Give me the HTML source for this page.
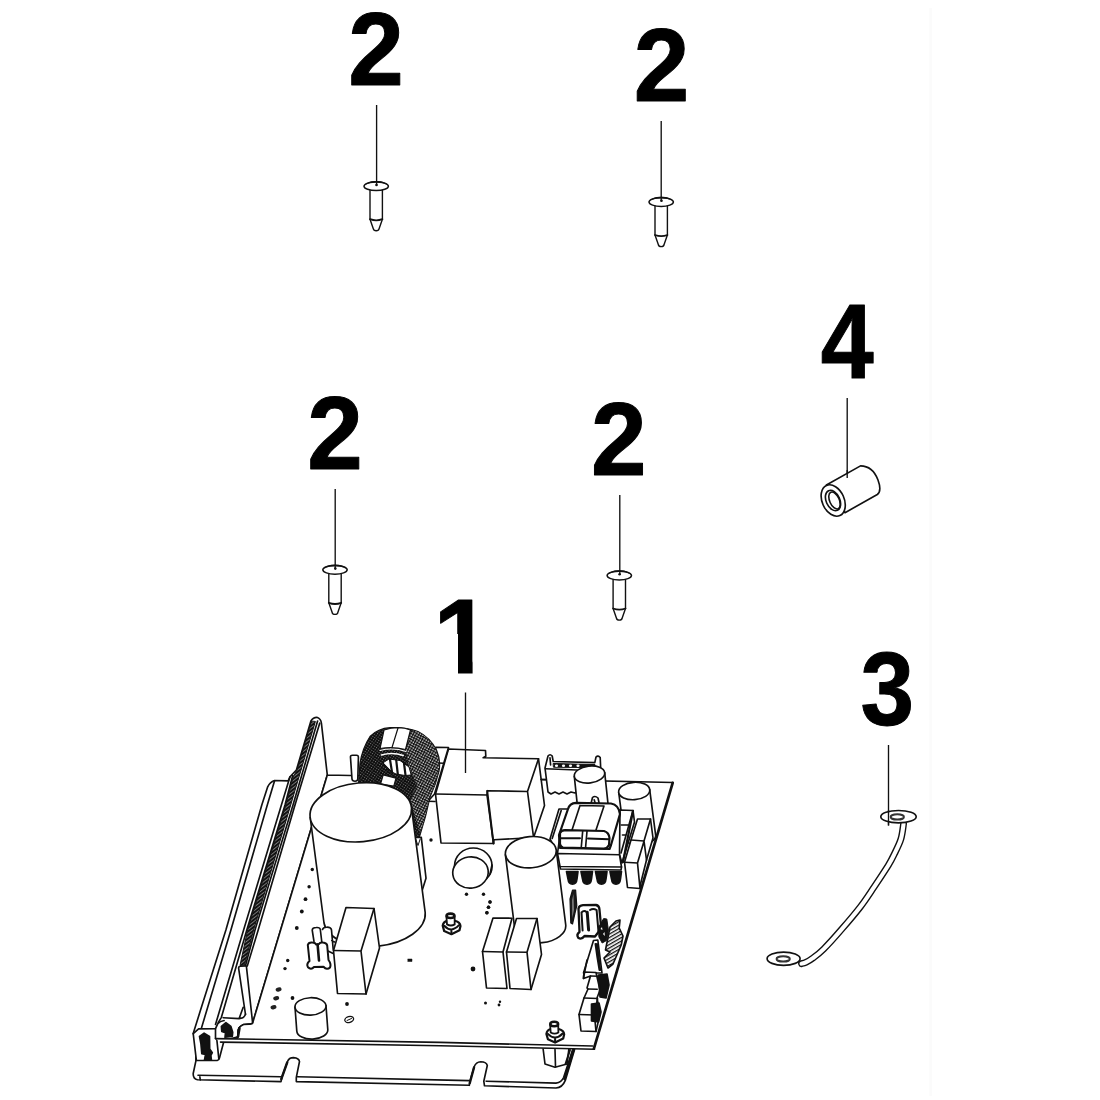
<!DOCTYPE html>
<html><head><meta charset="utf-8"><title>Parts diagram</title>
<style>
html,body{margin:0;padding:0;background:#fff;}
body{width:1100px;height:1100px;overflow:hidden;}
svg{display:block;}
.n{font-family:"Liberation Sans",Arial,Helvetica,sans-serif;font-weight:700;font-size:103px;fill:#000;stroke:#000;stroke-width:1px;stroke-linejoin:round;}
.l{stroke:#111;stroke-width:1.35;fill:none;}
.s{stroke:#111;stroke-width:1.65;fill:#fff;stroke-linejoin:round;stroke-linecap:round;}
.o{stroke:#111;stroke-width:1.65;fill:none;stroke-linejoin:round;stroke-linecap:round;}
g.z *{vector-effect:non-scaling-stroke;}
</style></head>
<body>
<svg width="1100" height="1100" viewBox="0 0 1100 1100">
<rect width="1100" height="1100" fill="#fff"/>
<line x1="930.7" y1="8" x2="930.7" y2="1096" stroke="#fbfbfb" stroke-width="2.6"/>
<defs>
<g id="screw">
  <path class="s" d="M-6.2 3 L-6.2 33 L-2.9 42.5 Q-2.5 44.6 0 44.6 Q2.5 44.6 2.9 42.5 L6.2 33 L6.2 3 Z" style="stroke-width:1.4"/>
  <path class="o" d="M-6.2 33 Q0 35.4 6.2 33" style="stroke-width:1.8"/>
  <ellipse class="s" cx="0" cy="0" rx="12.2" ry="4.4" style="stroke-width:1.5"/>
  <path d="M-11.8 -1.2 Q-8 -5.2 0 -5.2 Q8 -5.2 11.8 -1.2 Q6 -3.6 0 -3.5 Q-6 -3.6 -11.8 -1.2Z" fill="#111"/>
  <circle cx="0.3" cy="-1.2" r="1.3" fill="#111"/>
</g>
</defs>
<!-- numbers -->
<text class="n" transform="translate(348.3 85) scale(0.97 1)">2</text>
<text class="n" transform="translate(633.8 100.9) scale(0.97 1)">2</text>
<text class="n" transform="translate(307.2 469.4) scale(0.97 1)">2</text>
<text class="n" transform="translate(591 474.500) scale(0.97 1)">2</text>
<text class="n" transform="translate(820.7 377.9) scale(0.924 1.028)">4</text>
<text class="n" transform="translate(860.6 725.2) scale(0.935 1)">3</text>
<text class="n" transform="translate(433.45 672.500) scale(1.01 1.02)">1</text>
<path d="M430 634H458V676H430Z M472.6 594H494V676H472.6Z" fill="#fff"/>
<!-- screws -->
<use href="#screw" x="376.2" y="186.2"/>
<use href="#screw" x="661.2" y="202"/>
<use href="#screw" x="335" y="569.8"/>
<use href="#screw" x="619.3" y="575.5"/>
<!-- leaders -->
<path class="l" d="M376.6 105V185.2 M661.2 121V201.2 M335.2 489V569 M619.8 495V575 M847.200 398V478 M888.500 745V825.500"/>
<!-- BOARD -->
<g id="board">
<!-- base plate -->
<path class="s" d="M195.9 1038 L195.9 1060.9 L193.2 1073.5 Q193 1078.7 197.5 1079.8 L281 1081.6 L282 1077 L287.5 1061.5 Q289 1057.6 293.5 1057.6 Q299 1058 299.5 1061.5 L296.3 1077.3 L296.3 1081.6 L469.3 1085.3 L470 1081 L474.2 1066.7 Q476 1062 480.7 1061.8 Q486.5 1062 487.3 1065.5 L483.8 1081.2 L484.5 1085.8 L556 1088 Q562.5 1087.5 565.3 1080.4 L574.5 1049.8 L574.5 1038 Z"/>
<path class="o" d="M198 1075.3 L280.5 1076.7 M297.4 1076.7 L469 1080.6 M486.2 1081.2 L556 1083.1 Q561.5 1082.5 563.6 1077.5 L572.6 1050 M199.7 1075.6 L200.3 1080"/>
<path class="o" d="M281.3 1079 L287.2 1062.5 M469.8 1083 L474 1067.5 M564.5 1079 L573.6 1050" style="stroke-width:2.4"/>
<!-- heat sink -->
<path class="s" d="M 274.5 780.5 L 288.2 780.9 L 290.0 776.8 L 296.4 770.0 L 310.9 720.9 Q 313.2 717.3 316.8 717.3 Q 320.9 718.6 321.4 723.2 L 327.3 775.0 L 252.7 1022.7 Q 252.3 1024.5 249.1 1024.1 L 243.6 1024.5 Q 239.1 1026.4 238.2 1030.0 L 238.0 1036.8 L 224.1 1040.5 L 219.4 1058.2 Q 219.1 1060.2 217.3 1060.5 L 196.4 1060.5 L 193.2 1033.6 L 200.0 1011.8 L 225.9 930.0 L 261.8 805.0 L 267.7 786.8 Q 270.0 782.0 274.5 780.5 Z"/>
<path class="o" d="M 274.5 780.9 L 267.3 805.0 L 230.9 930.0 L 201.4 1028.2 M 290.0 776.8 L 281.4 805.0 L 243.6 930.0 L 215.5 1024.5 M 292.7 775.5 L 285.0 805.0 L 246.8 930.0 L 221.4 1017.3 L 218.2 1022.7"/>
<path class="o" d="M 317.6 721.0 L 293.0 805.0 L 255.0 930.0 L 245.5 965.5 M 319.7 723.2 L 295.0 805.0 L 258.2 930.0 L 247.3 965.9"/>
<defs><pattern id="hat" width="2.8" height="2.8" patternUnits="userSpaceOnUse" patternTransform="rotate(-38)"><rect width="2.8" height="2.8" fill="#111"/><rect width="2.8" height="0.7" fill="#9a9a9a"/></pattern></defs>
<path class="o" d="M 311.3 721.5 L 296.9 770.5 L 293.5 776.0 L 285.8 805.0 L 247.6 930.0 L 240.0 965.5 L 244.5 965.0 L 253.6 930.0 L 290.7 805.0 L 315.3 721.8 Z" style="fill:url(#hat);stroke-width:1"/>
<path class="o" d="M 238.6 968.2 L 245.5 1014.5 M 246.4 966.4 L 252.5 1021.8 M 238.6 968.2 Q 238.6 966.4 240.5 966.3 L 245.5 965.9"/>
<path class="o" d="M 223.2 1017.7 L 239.1 1018.6 Q 244.5 1018.2 245.5 1014.1 M 239.1 1018.6 L 243.2 1007.3"/>
<path class="o" d="M 193.2 1033.6 L 198.6 1028.9 L 215.5 1028.7 L 217.7 1023.8 Q 220.0 1021.1 224.1 1020.5"/>
<path class="o" d="M 215.5 1028.7 L 215.5 1038.6 L 216.8 1039.3 L 218.8 1058.6"/>
<path class="s" d="M 199.5 1036.4 L 204.1 1033.2 L 209.5 1036.4 L 209.7 1049.1 L 212.3 1052.7 L 210.9 1055.5 L 211.4 1060.0 L 204.5 1060.0 L 205.5 1054.5 L 201.8 1053.6 L 200.9 1043.6 Z" style="fill:#111"/>
<path class="s" d="M 221.4 1026.4 L 225.9 1022.7 L 230.9 1026.4 L 232.7 1032.3 L 232.3 1036.4 L 225.0 1037.3 L 225.5 1032.7 L 221.8 1031.4 Z" style="fill:#111"/>
<path class="o" d="M 239.5 1028.2 L 238.0 1036.8" style="stroke-width:2.500"/>
<!-- standoff under pcb -->
<path class="s" d="M 543.0 1048.0 L 545.0 1064.0 L 555.0 1067.2 L 567.0 1064.0 L 569.0 1048.0 Z"/>
<path class="o" d="M 555.0 1049.5 L 555.5 1066.8"/>
<path class="o" d="M 570.0 1050.0 L 565.5 1064.0 M 573.0 1050.0 L 568.0 1066.0" style="stroke-width:2"/>
<!-- pcb -->
<path class="s" d="M 327.3 775.0 L 673.5 782.6 L 594.5 1049.3 L 220.5 1042.3 L 215.5 1038.6 L 238.0 1038.9 L 238.2 1030.0 Q 239.1 1026.4 243.6 1024.5 L 249.1 1024.1 Q 252.3 1024.5 252.7 1022.7 Z" style="stroke:none"/>
<path class="o" d="M 327.3 775.0 L 673.0 782.5 M 594.5 1049.2 L 440.0 1045.7 L 220.5 1042.1 M 215.5 1038.6 L 440.0 1042.4 L 592.7 1046.0 M 252.7 1022.7 L 327.3 775.0"/>
<path class="o" d="M 672.7 782.9 L 593.9 1048.6" style="stroke-width:2.7"/>
<path class="o" d="M 252.7 1022.7 Q 252.3 1024.5 249.1 1024.1 L 243.6 1024.5 Q 239.1 1026.4 238.2 1030.0 L 238.0 1036.8"/>
<path class="o" d="M 239.5 1028.2 L 238.0 1036.8" style="stroke-width:2.500"/>
<!-- relay blocks -->
<path class="s" d="M 448.5 749.0 L 485.5 750.5 L 485.8 756.2 L 483.2 757.8 L 538.5 758.8 L 544.5 805.5 L 533.6 837.6 L 494.0 839.7 L 493.5 843.5 L 441.0 843.0 L 435.5 794.0 Z"/>
<path class="o" d="M 435.5 794.0 L 487.0 795.0 L 487.5 790.7 L 527.5 791.5 L 538.5 758.8 M 527.5 791.5 L 533.6 837.6 M 487.0 795.0 L 493.5 843.5"/>
<path class="o" d="M 487.2 791.0 L 493.5 843.5" style="stroke-width:2"/>
<path class="o" d="M 541.0 779.5 L 546.0 779.5"/>
<!-- connector -->
<path class="s" d="M 545.0 768.0 L 548.0 756.0 Q 550.0 753.5 552.2 756.0 L 553.2 761.5 L 594.8 762.6 L 596.0 757.0 Q 598.0 755.0 600.2 757.5 L 601.0 775.0 L 575.0 793.0 L 571.0 792.0 L 567.0 794.0 L 563.0 792.0 L 559.0 794.0 L 555.0 792.0 L 551.0 794.0 L 548.0 792.0 Z"/>
<path class="o" d="M 545.5 768.8 L 577.0 770.0 M 550.0 757.8 L 550.6 765.0"/>
<path class="s" d="M 553.5 763.5 L 595.0 764.6 L 595.0 767.6 L 553.8 767.2 Z" style="fill:#111;stroke-width:1"/>
<ellipse class="s" cx="556.5" cy="765.7" rx="1.6" ry="1.3" style="stroke:none"/>
<ellipse class="s" cx="563.5" cy="765.7" rx="1.6" ry="1.3" style="stroke:none"/>
<ellipse class="s" cx="570.5" cy="765.7" rx="1.6" ry="1.3" style="stroke:none"/>
<ellipse class="s" cx="578.0" cy="765.7" rx="1.6" ry="1.3" style="stroke:none"/>
<!-- cyl A, B -->
<path class="s" d="M574.3 776.3 L577.7 808.3 A15.3 8.4 -7 0 0 608.1 804.7 L604.7 772.7 Z"/><ellipse class="s" cx="589.5" cy="774.5" rx="15.3" ry="8.4" transform="rotate(-7 589.5 774.5)"/>
<path class="s" d="M618.7 792.4 L624.7 838.4 A15.6 8.7 -4 0 0 655.7 835.6 L649.7 789.6 Z"/><ellipse class="s" cx="634.2" cy="791.0" rx="15.6" ry="8.7" transform="rotate(-4 634.2 791.0)"/>
<!-- toroid -->
<defs><pattern id="xh" width="2.4" height="2.4" patternUnits="userSpaceOnUse" patternTransform="rotate(35)"><rect width="2.4" height="2.4" fill="#0c0c0c"/><rect x="0.2" y="0.2" width="0.8" height="0.8" fill="#ccc"/></pattern></defs>
<path class="s" d="M 350.5 757.5 Q 350.2 755.2 352.5 755.2 L 356.5 755.2 Q 358.5 755.2 358.4 757.5 L 357.8 779.0 Q 357.6 781.2 355.0 781.2 Q 352.2 781.2 352.0 779.0 Z"/>
<path class="s" d="M 436.0 747.2 L 448.5 747.5 L 434.5 794.0 L 428.0 801.2 L 430.0 765.0 Z"/>
<path class="o" d="M 428.0 801.2 L 435.0 801.5 M 438.5 763.0 L 443.5 763.2"/>
<path class="s" d="M 358.5 784.0 L 360.0 763.0 Q 362.5 748.0 370.0 736.5 Q 378.0 728.5 390.0 727.7 Q 405.0 726.8 418.0 731.5 Q 430.0 737.5 436.5 750.0 Q 441.0 760.0 439.0 771.0 Q 436.0 784.0 430.0 797.0 L 425.5 816.4 L 419.6 836.4 L 416.4 838.5 L 407.3 827.3 L 380.0 795.0 Z" style="fill:url(#xh);stroke-width:1.2"/>
<defs><pattern id="xh2" width="2.6" height="2.6" patternUnits="userSpaceOnUse" patternTransform="rotate(28)"><rect width="2.6" height="2.6" fill="#111"/><rect x="0.3" y="0.3" width="1.35" height="1.35" fill="#eee"/></pattern></defs>
<path class="s" d="M 410.5 730.0 L 418.0 731.8 Q 430.0 737.8 436.2 750.2 Q 440.5 760.0 438.6 771.0 Q 435.8 784.0 429.7 797.0 L 425.1 816.4 L 420.4 833.6 L 413.5 811.0 L 410.5 800.0 L 417.0 785.0 L 412.5 775.0 L 409.2 767.0 L 405.7 749.5 Z" style="fill:url(#xh2);stroke:none"/>
<path class="s" d="M 384.0 730.0 Q 391.0 727.8 397.8 727.7 Q 405.0 727.8 410.5 730.0 L 405.5 749.5 Q 393.0 746.5 380.0 748.5 Z" style="stroke-width:1.2"/>
<path class="o" d="M 398.0 728.0 L 392.0 747.5" style="stroke-width:1.2"/>
<path class="o" d="M 380.0 750.5 Q 393.0 747.2 406.0 751.5" style="stroke:#fff;stroke-width:1.1"/>
<path class="o" d="M 381.5 755.0 Q 392.5 751.8 403.2 755.5" style="stroke:#fff;stroke-width:1.6"/>
<path class="s" d="M 383.0 762.8 L 389.0 759.0 L 400.0 760.5 L 409.0 767.0 L 411.2 775.0 L 405.0 775.5 L 396.0 774.0 L 388.0 770.0 Z" style="stroke-width:1"/>
<path class="o" d="M 390.0 759.5 L 392.0 772.0 M 396.2 760.0 L 397.8 774.2 M 404.0 763.0 L 405.5 775.2" style="stroke-width:2.2"/>
<path class="s" d="M 383.0 762.8 L 392.0 772.0 L 388.0 770.0 Z" style="fill:#111;stroke-width:1"/>
<path class="s" d="M 383.2 774.8 L 396.0 778.2 L 393.8 786.2 L 380.5 784.2 Z" style="stroke-width:1.2"/>
<!-- right small boxes -->
<path class="s" d="M 637.5 819.0 L 650.5 819.0 L 653.0 838.0 L 646.5 860.0 L 640.5 884.0 L 640.0 888.5 L 627.5 887.5 L 624.5 862.2 L 631.0 840.0 Z"/>
<path class="o" d="M 650.5 819.0 L 644.0 841.0 L 631.0 840.0 M 644.0 841.0 L 646.5 860.0 M 644.0 841.2 L 637.5 863.0 L 624.5 862.2 M 637.5 863.0 L 640.0 888.5"/>
<!-- transformer -->
<path class="s" d="M 559.0 809.0 L 568.5 809.0 L 560.0 835.0 L 557.5 853.5 L 550.0 839.0 Z"/>
<path class="o" d="M 561.2 810.5 L 552.2 838.5"/>
<path class="s" d="M 620.0 810.0 L 633.0 810.5 L 634.5 822.0 L 622.0 863.0 L 619.5 854.8 Z"/>
<path class="o" d="M 621.2 825.0 L 628.5 825.0 M 622.5 835.0 L 625.5 835.0 M 633.0 810.5 L 621.0 853.0"/>
<path class="o" d="M 633.0 811.0 L 623.0 862.0" style="stroke-width:2.2"/>
<path class="s" d="M 591.0 803.5 L 592.5 797.5 Q 595.0 795.3 598.0 798.0 L 599.2 803.5 Z"/>
<path class="o" d="M 594.2 799.8 L 595.2 803.2"/>
<path class="s" d="M 568.0 809.0 Q 569.5 803.2 576.0 802.8 L 611.0 803.5 Q 618.8 805.0 620.0 814.0 L 611.0 845.0 L 609.5 849.0 L 560.0 848.0 L 559.0 835.0 Z" style="stroke-width:2.2"/>
<path class="o" d="M 580.0 805.5 L 604.0 806.0 M 580.0 805.5 L 572.0 830.0 M 604.0 806.0 L 596.0 830.0"/>
<path class="s" d="M 560.0 833.0 Q 561.0 830.5 565.0 830.2 L 604.0 831.0 Q 609.0 832.5 609.5 838.0 L 609.0 845.0 Q 607.0 849.0 603.0 848.5 L 563.0 847.5 Q 559.5 846.5 560.0 842.0 Z" style="stroke-width:2.2"/>
<path class="o" d="M 561.0 838.2 L 580.0 838.2 M 588.0 838.6 L 609.0 839.2" style="stroke-width:2"/>
<path class="o" d="M 582.7 831.0 L 581.2 848.0 M 587.0 831.2 L 585.5 848.2"/>
<path class="s" d="M 557.5 853.5 L 619.5 854.8 L 621.5 867.0 L 560.0 866.5 Z"/>
<path class="o" d="M 560.5 869.0 L 621.0 870.0 M 560.0 866.5 L 560.5 869.0 M 621.5 867.0 L 621.0 870.0"/>
<path class="s" d="M 566.5 871.5 L 578.0 871.5 L 577.0 879.0 Q 576.5 884.2 572.5 884.2 Q 568.5 884.2 568.0 879.0 Z" style="fill:#111"/>
<path class="s" d="M 581.0 871.5 L 592.5 871.5 L 591.5 879.0 Q 591.0 884.2 587.0 884.2 Q 583.0 884.2 582.5 879.0 Z" style="fill:#111"/>
<path class="s" d="M 595.5 871.5 L 607.0 871.5 L 606.0 879.0 Q 605.5 884.2 601.5 884.2 Q 597.5 884.2 597.0 879.0 Z" style="fill:#111"/>
<path class="s" d="M 610.0 871.5 L 621.5 871.5 L 620.5 879.0 Q 620.0 884.2 616.0 884.2 Q 612.0 884.2 611.5 879.0 Z" style="fill:#111"/>
<path class="s" d="M414.5 837.5 L421.3 837.3 L426 878.2 L421.5 892.5 Z"/><path class="o" d="M415.5 838.5 L418 845.5 L420.2 839" style="stroke-width:1"/>
<!-- big cap -->
<path class="s" d="M310.2 817.5 L324.0 923.0 A50.9 29.4 -5 0 0 425.2 912.6 L411.4 807.1 Z"/><ellipse class="s" cx="360.8" cy="812.3" rx="50.9" ry="29.4" transform="rotate(-5 360.8 812.3)"/>
<!-- medium cap -->
<path class="s" d="M505.4 854.8 L514.9 929.8 A25.5 15.6 -5 0 0 565.7 924.6 L556.2 849.6 Z"/><ellipse class="s" cx="530.8" cy="852.2" rx="25.5" ry="15.6" transform="rotate(-5 530.8 852.2)"/>
<!-- small cyl -->
<path class="s" d="M295.0 1007.1 L296.8 1031.1 A15.5 8.7 -2 0 0 327.8 1029.7 L326.0 1005.7 Z"/><ellipse class="s" cx="310.5" cy="1006.4" rx="15.5" ry="8.7" transform="rotate(-2 310.5 1006.4)"/>
<!-- disc -->
<ellipse class="s" cx="473.3" cy="866.0" rx="18.8" ry="18.0"/>
<path class="o" d="M 490.0 874.0 L 492.0 865.0"/>
<ellipse class="s" cx="470.5" cy="872.5" rx="17.8" ry="15.6" transform="rotate(-8 470.5 872.5)"/>
<!-- nuts -->
<path class="s" d="M 442.7 925.7 Q 443.3 921.2 447.8 920.8 L 455.0 920.8 Q 460.1 922.1 460.5 926.1 L 459.5 930.2 L 451.4 934.2 L 444.2 931.1 Z" style="stroke-width:2.2"/><path class="o" d="M 444.2 925.7 Q 451.4 933.4 458.9 925.2 M 451.4 929.8 L 451.4 934.1" style="stroke-width:2"/><path class="s" d="M 446.4 916.2 L 447.0 924.4 Q 450.9 926.6 454.7 924.4 L 454.6 916.2 Z" style="stroke-width:1.8"/><ellipse class="s" cx="450.5" cy="915.8" rx="3.9" ry="2.2" style="stroke-width:2.6"/>
<circle cx="466.5" cy="894.2" r="1.7" fill="#111"/>
<circle cx="483.5" cy="894.2" r="1.7" fill="#111"/>
<circle cx="490.0" cy="902.0" r="1.7" fill="#111"/>
<circle cx="488.5" cy="907.2" r="1.7" fill="#111"/>
<circle cx="487.0" cy="912.8" r="1.7" fill="#111"/>
<circle cx="431.0" cy="840.0" r="1.7" fill="#111"/>
<!-- front-left block + header -->
<path class="s" d="M 312.2 930.0 Q 312.5 927.5 316.2 927.5 Q 320.0 927.2 320.3 929.5 L 321.8 942.0 L 322.5 929.5 Q 323.0 927.2 326.5 927.2 Q 331.0 927.0 331.5 930.0 L 333.2 949.5 L 328.5 960.0 L 307.8 945.0 Z" style="stroke:none"/>
<path class="o" d="M 312.2 930.0 Q 312.5 927.5 316.2 927.5 Q 320.0 927.2 320.3 929.5 L 321.8 942.0 M 322.5 929.5 Q 323.0 927.2 326.5 927.2 Q 331.0 927.0 331.5 930.0 L 333.2 949.5 M 312.2 930.0 L 314.0 941.5 M 331.8 940.5 L 334.5 942.0 M 328.0 951.0 L 333.2 953.5"/>
<path class="s" d="M 307.8 945.0 Q 308.5 942.0 312.5 942.5 Q 315.5 942.8 316.2 944.5 L 319.0 944.0 Q 320.0 942.0 323.0 942.5 Q 326.8 942.8 327.2 945.5 L 328.5 960.0 Q 331.5 964.0 330.0 967.5 Q 327.0 970.5 323.5 966.8 L 314.0 967.0 Q 311.0 970.2 308.0 967.2 Q 306.0 964.0 309.5 961.0 Z" style="stroke-width:2"/>
<path class="o" d="M 317.6 944.5 L 319.0 960.5" style="stroke-width:2.6"/>
<path class="s" d="M 346.0 907.5 L 374.0 908.5 L 379.5 948.0 L 366.0 994.0 L 337.5 993.5 L 333.5 950.5 Z"/>
<path class="o" d="M 333.5 950.5 L 361.0 951.0 L 374.0 908.5 M 361.0 951.0 L 366.0 994.0"/>
<circle cx="305.5" cy="899.2" r="1.9" fill="#111"/>
<circle cx="301.8" cy="911.5" r="1.9" fill="#111"/>
<circle cx="296.8" cy="928.0" r="1.9" fill="#111"/>
<circle cx="292.5" cy="998.0" r="1.9" fill="#111"/>
<circle cx="347.0" cy="1004.0" r="1.9" fill="#111"/>
<!-- front boxes -->
<path class="s" d="M 493.0 918.0 L 512.0 918.2 L 503.0 952.0 L 507.0 988.5 L 486.5 988.0 L 482.5 951.5 Z"/>
<path class="o" d="M 482.5 951.5 L 503.0 952.0"/>
<path class="s" d="M 516.5 918.5 L 537.0 918.5 L 541.5 954.5 L 531.0 989.5 L 510.0 988.5 L 506.5 952.0 Z"/>
<path class="o" d="M 506.5 952.0 L 527.0 952.2 L 537.0 918.5 M 527.0 952.2 L 531.0 989.5"/>
<circle cx="490.0" cy="902.0" r="1.7" fill="#111"/>
<circle cx="488.5" cy="907.2" r="1.7" fill="#111"/>
<circle cx="486.8" cy="912.8" r="1.7" fill="#111"/>
<circle cx="473.0" cy="969.0" r="2.4" fill="#111"/>
<circle cx="485.5" cy="1003.0" r="1.5" fill="#111"/>
<circle cx="500.0" cy="1001.8" r="1.2" fill="#111"/>
<circle cx="499.0" cy="1005.0" r="1.4" fill="#111"/>
<!-- right edge parts -->
<path class="s" d="M 570.0 899.0 L 572.5 890.2 L 575.6 890.0 L 576.8 905.5 L 575.0 913.0 L 572.5 924.0 L 570.8 923.0 Z" style="fill:#1a1a1a;stroke-width:1.2"/>
<path class="s" d="M 572.0 900.0 L 573.5 894.0 L 574.0 910.0 L 572.2 918.0 Z" style="fill:#777;stroke:none"/>
<path class="s" d="M 578.5 908.5 Q 579.0 905.5 583.0 905.2 L 596.0 905.0 Q 599.2 905.6 599.4 909.0 L 601.0 925.5 L 598.5 932.0 L 595.0 936.5 L 584.5 936.0 Q 581.5 940.0 578.3 937.8 Q 576.0 934.5 579.5 932.0 Z" style="stroke-width:2.3"/>
<path class="o" d="M 581.5 912.5 Q 584.0 909.8 586.8 912.2 M 590.0 910.0 Q 593.2 907.8 596.6 910.0 L 598.5 932.0 M 581.5 912.5 L 582.6 930.5" style="stroke-width:2"/>
<path class="o" d="M 587.2 912.2 L 588.6 930.0" style="stroke-width:3"/>
<path class="s" d="M 598.8 927.0 L 603.6 918.6 L 606.8 919.0 L 608.4 930.0 L 606.5 940.5 L 602.2 943.0 L 599.0 937.2 Z" style="fill:#111;stroke-width:1"/>
<path class="s" d="M 600.5 929.0 L 602.0 927.0 L 602.5 930.0 Z M 603.0 934.0 L 604.5 932.0 L 604.8 936.0 Z" style="stroke:none"/>
<defs><pattern id="hs" width="3" height="3" patternUnits="userSpaceOnUse" patternTransform="rotate(-30)"><rect width="3" height="3" fill="#fff"/><rect width="3" height="1.3" fill="#111"/></pattern></defs>
<path class="s" d="M 610.0 927.0 L 616.0 921.0 L 620.0 920.0 L 619.2 928.0 L 623.0 936.0 L 621.2 945.0 L 613.0 964.0 L 608.0 968.0 L 604.0 958.0 L 610.0 952.0 L 605.5 950.0 Z" style="fill:url(#hs)"/>
<path class="s" d="M 593.5 940.5 L 597.8 940.0 L 602.0 973.0 L 583.5 973.0 Z"/>
<path class="o" d="M 597.0 944.0 L 600.2 970.0 M 595.5 944.0 Q 597.0 956.0 599.5 970.0" style="stroke-width:2"/>
<path class="s" d="M 584.0 972.0 L 596.0 972.5 L 600.0 990.0 L 597.0 998.0 L 600.0 1014.0 L 596.0 1031.5 L 581.0 1031.0 L 579.0 1014.5 L 584.0 998.0 L 588.0 989.0 L 587.0 988.0 L 590.5 976.0 L 583.5 978.5 Z"/>
<path class="o" d="M 579.0 1014.5 L 594.5 1015.0 L 596.0 1031.5 M 594.5 1015.0 L 597.5 998.5 L 584.0 998.0 M 588.0 989.0 L 597.2 989.2 M 590.5 976.0 L 599.0 976.2 M 584.0 972.0 L 583.5 978.5 M 587.0 960.0 L 583.5 978.0"/>
<path class="s" d="M 598.5 975.0 L 607.0 974.0 L 609.0 985.0 L 606.0 998.0 L 600.0 997.0 Z" style="fill:#111"/>
<path class="s" d="M 591.5 1004.0 L 599.0 1003.0 L 601.0 1012.0 L 598.5 1022.0 L 591.5 1021.0 Z" style="fill:#111"/>
<!-- nut 2 and standoff -->
<path class="s" d="M 546.4 1033.9 Q 547.0 1029.4 551.5 1029.0 L 558.7 1029.0 Q 563.8 1030.3 564.2 1034.3 L 563.2 1038.4 L 555.1 1042.5 L 547.9 1039.3 Z" style="stroke-width:2.2"/><path class="o" d="M 547.9 1033.9 Q 555.1 1041.5 562.6 1033.5 M 555.1 1038.0 L 555.1 1042.3" style="stroke-width:2"/><path class="s" d="M 550.1 1024.5 L 550.7 1032.5 Q 554.6 1034.8 558.4 1032.5 L 558.2 1024.5 Z" style="stroke-width:1.8"/><ellipse class="s" cx="554.2" cy="1024.0" rx="3.9" ry="2.2" style="stroke-width:2.6"/>
<!-- extra dots -->
<circle cx="312.3" cy="869.5" r="1.7" fill="#111"/>
<circle cx="309.1" cy="886.8" r="1.7" fill="#111"/>
<circle cx="287.7" cy="960.5" r="1.7" fill="#111"/>
<circle cx="285.0" cy="968.6" r="1.7" fill="#111"/>
<ellipse cx="278.6" cy="989.5" rx="3" ry="2.1" fill="#222" transform="rotate(-15 278.6 989.5)"/>
<ellipse cx="276.2" cy="998.2" rx="3" ry="2.1" fill="#222" transform="rotate(-15 276.2 998.2)"/>
<ellipse cx="273.5" cy="1007.3" rx="3" ry="2.1" fill="#222" transform="rotate(-15 273.5 1007.3)"/>
<ellipse class="o" cx="349.2" cy="1019.5" rx="4.5" ry="3.0" transform="rotate(-15 349.2 1019.5)" style="stroke-width:1.2"/>
<path class="o" d="M 347.0 1020.5 L 351.5 1018.5" style="stroke-width:1"/>
<path class="s" d="M 408.0 959.0 L 412.0 959.0 L 412.0 961.5 L 408.0 961.5 Z" style="fill:#111;stroke-width:.5"/>
</g>
<path class="l" d="M465.500 692.500V773"/>

<!-- spacer -->
<g id="spacer">
<path class="s" d="M826.400 485 L860.500 465.900 Q872.700 466 878 480 Q882 491 877.300 494.500 L845 512.700 Z"/>
<ellipse class="s" cx="833.200" cy="500.500" rx="11" ry="16.500" transform="rotate(-24 833.200 500.500)"/>
<ellipse class="o" cx="833" cy="500.500" rx="6.800" ry="10.800" transform="rotate(-24 833 500.500)"/>
<ellipse class="o" cx="834.500" cy="500.500" rx="4.800" ry="9" transform="rotate(-24 834.500 500.500)" style="stroke-width:1.600"/>
</g>
<path class="l" d="M847.200 470V478"/>
<!-- strap -->
<g id="strap">
<path d="M903.6 823.6 C903.2 826.2 902.4 834.1 900.9 839.1 C899.4 844.1 896.7 849.2 894.5 853.6 C892.4 858.0 891.5 860.0 888.2 865.5 C884.8 870.9 879.2 879.4 874.5 886.4 C869.8 893.3 865.5 900.2 860.0 907.3 C854.5 914.4 847.9 922.1 841.8 929.1 C835.8 936.1 828.5 944.2 823.6 949.1 C818.8 953.9 815.7 956.0 812.7 958.2 C809.8 960.4 807.7 961.5 805.8 962.4 C803.9 963.3 802.2 963.4 801.5 963.6" fill="none" stroke="#111" stroke-width="6.9" stroke-linecap="round"/>
<path d="M903.6 823.6 C903.2 826.2 902.4 834.1 900.9 839.1 C899.4 844.1 896.7 849.2 894.5 853.6 C892.4 858.0 891.5 860.0 888.2 865.5 C884.8 870.9 879.2 879.4 874.5 886.4 C869.8 893.3 865.5 900.2 860.0 907.3 C854.5 914.4 847.9 922.1 841.8 929.1 C835.8 936.1 828.5 944.2 823.6 949.1 C818.8 953.9 815.7 956.0 812.7 958.2 C809.8 960.4 807.7 961.5 805.8 962.4 C803.9 963.3 802.2 963.4 801.5 963.6" fill="none" stroke="#fff" stroke-width="4.1" stroke-linecap="round"/>
<ellipse class="s" cx="898.500" cy="816.700" rx="17.700" ry="6.200"/>
<ellipse class="o" cx="897.300" cy="816.900" rx="6.600" ry="2.600" style="stroke-width:2;stroke:#333"/>
<ellipse class="s" cx="783.600" cy="958.700" rx="16.500" ry="6.600"/>
<ellipse class="o" cx="783.200" cy="958.900" rx="6.600" ry="2.600" style="stroke-width:2;stroke:#333"/>
</g>
<path class="l" d="M888.500 810V825.500"/>
</svg>
</body></html>
